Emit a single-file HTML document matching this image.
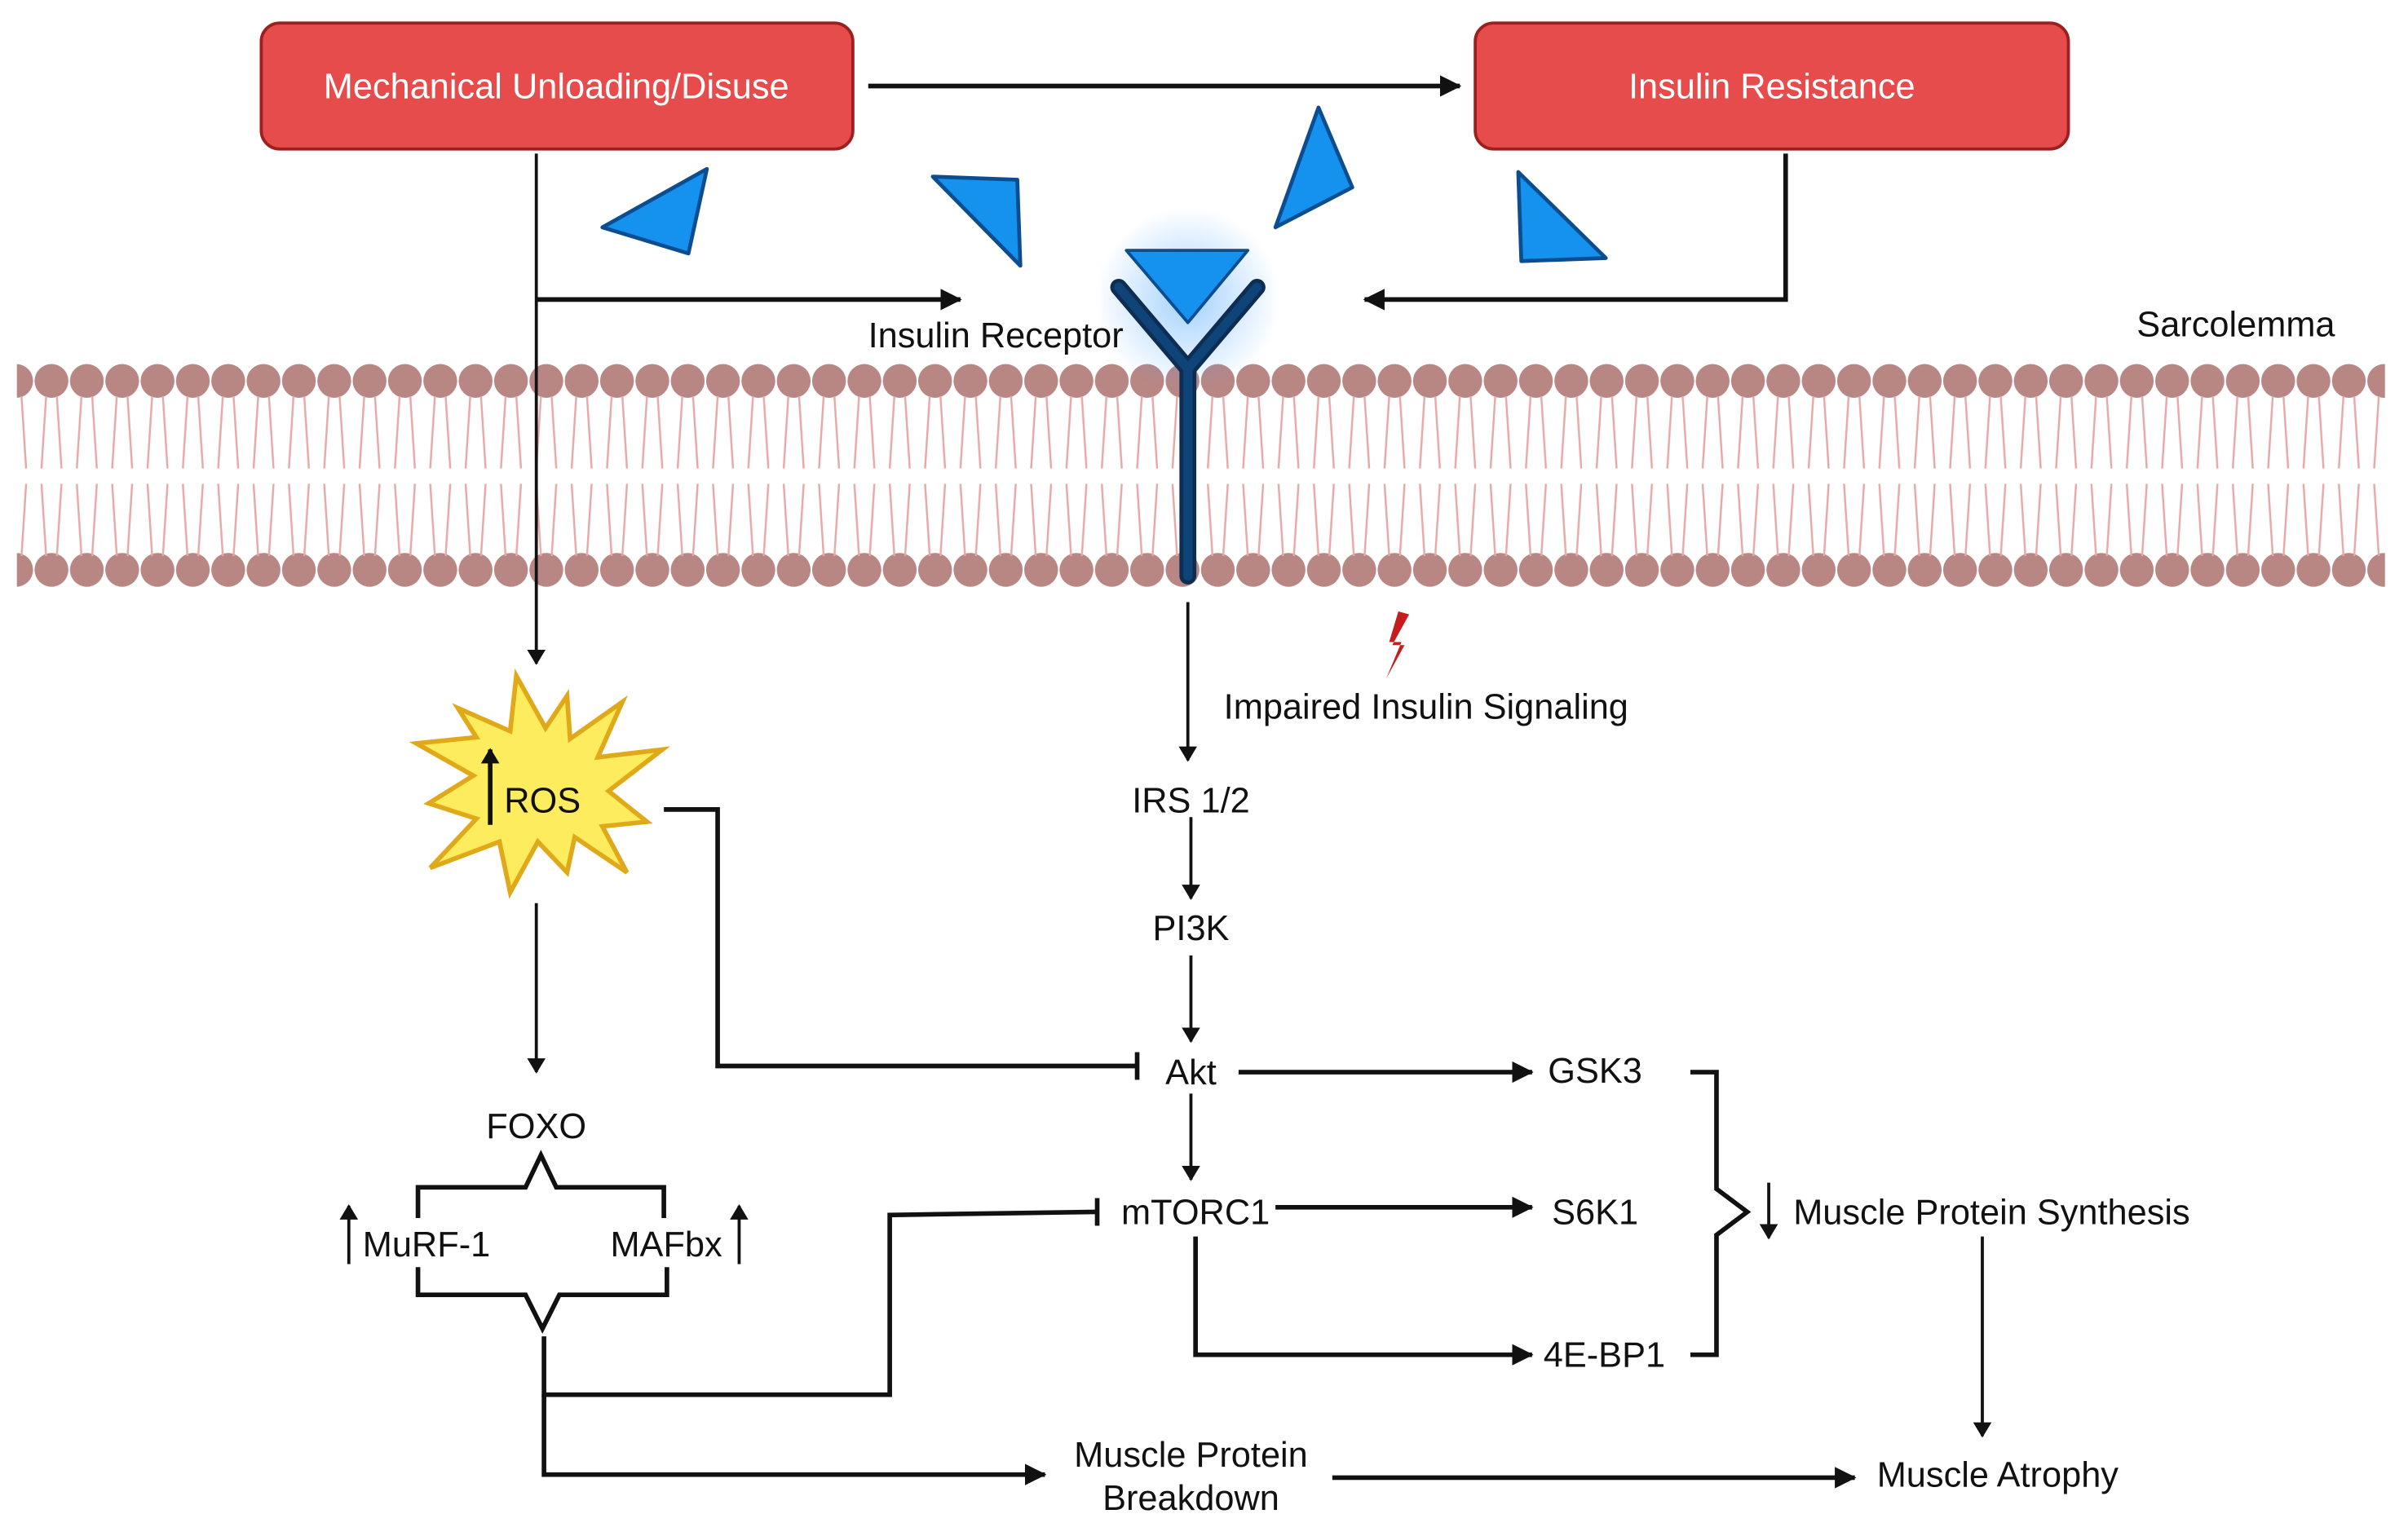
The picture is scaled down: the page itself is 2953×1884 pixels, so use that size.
<!DOCTYPE html>
<html><head><meta charset="utf-8"><style>
html,body{margin:0;padding:0;background:#fff;}
svg{display:block}
text{font-family:"Liberation Sans",sans-serif;fill:#111;font-size:23px;}
</style></head><body>
<svg width="2953" height="1884" viewBox="0 0 1567 1000" preserveAspectRatio="none" xmlns="http://www.w3.org/2000/svg">
<defs>
<marker id="ah" markerWidth="10" markerHeight="12" refX="9" refY="6" orient="auto" markerUnits="userSpaceOnUse"><path d="M0,0 L10,6 L0,12 z" fill="#111"/></marker>
<marker id="ah2" markerWidth="14" markerHeight="14" refX="13" refY="7" orient="auto" markerUnits="userSpaceOnUse"><path d="M0,0 L14,7 L0,14 z" fill="#111"/></marker>
<radialGradient id="glow"><stop offset="0" stop-color="#4aa3ff" stop-opacity="0.5"/><stop offset="1" stop-color="#4aa3ff" stop-opacity="0"/></radialGradient>
<pattern id="heads" x="22" y="0" width="23" height="1000" patternUnits="userSpaceOnUse">
<circle cx="11.5" cy="248" r="11" fill="#b88683"/>
<circle cx="11.5" cy="371" r="11" fill="#b88683"/>
<path d="M8,258 L5,305 M15,258 L18,305 M5,315 L8,362 M18,315 L15,362" stroke="#e8a8a8" stroke-width="1.3" fill="none"/>
</pattern>
</defs>

<rect x="11" y="236" width="1541" height="147" fill="url(#heads)"/>

<rect x="170" y="15" width="385" height="82" rx="12" fill="#e64c4c" stroke="#9e1f1f" stroke-width="2"/>
<text x="362" y="64" text-anchor="middle" style="fill:#fff">Mechanical Unloading/Disuse</text>
<rect x="960" y="15" width="386" height="82" rx="12" fill="#e64c4c" stroke="#9e1f1f" stroke-width="2"/>
<text x="1153" y="64" text-anchor="middle" style="fill:#fff">Insulin Resistance</text>

<g stroke="#111" fill="none" stroke-width="3">
<line x1="565" y1="56" x2="950" y2="56" marker-end="url(#ah2)"/>
<line x1="349" y1="195" x2="625" y2="195" marker-end="url(#ah2)"/>
<polyline points="1162,100 1162,195 888,195" marker-end="url(#ah2)"/>
</g>
<line x1="349" y1="100" x2="349" y2="432" stroke="#111" stroke-width="2" marker-end="url(#ah)"/>

<g fill="#1591ee" stroke="#0b4d8f" stroke-width="2.5" stroke-linejoin="round">
<polygon points="460,110 448,165 392,148"/>
<polygon points="607,115 662,117 664,173"/>
<polygon points="858,70 880,122 830,148"/>
<polygon points="988,112 1045,168 990,170"/>
</g>

<circle cx="773" cy="195" r="60" fill="url(#glow)"/>
<polygon points="733,163 812,163 773,210" fill="#1591ee" stroke="#0b4d8f" stroke-width="2" stroke-linejoin="round"/>
<g stroke="#0d2e52" stroke-width="11" stroke-linecap="round" fill="none">
<polyline points="728,187 773,240 818,187"/>
<line x1="773" y1="240" x2="773" y2="375"/>
</g>
<g stroke="#0f4478" stroke-width="6" stroke-linecap="round" fill="none">
<polyline points="728,187 773,240 818,187"/>
<line x1="773" y1="240" x2="773" y2="375"/>
</g>

<text x="648" y="226" text-anchor="middle">Insulin Receptor</text>
<text x="1455" y="219" text-anchor="middle">Sarcolemma</text>

<line x1="773" y1="392" x2="773" y2="495" stroke="#111" stroke-width="2" marker-end="url(#ah)"/>
<polygon points="910,398 904,418 912,418 902,442 914,420 906,420 917,400" fill="#c61c1c"/>
<text x="928" y="468" text-anchor="middle">Impaired Insulin Signaling</text>
<text x="775" y="529" text-anchor="middle">IRS 1/2</text>
<line x1="775" y1="532" x2="775" y2="585" stroke="#111" stroke-width="2" marker-end="url(#ah)"/>
<text x="775" y="612" text-anchor="middle">PI3K</text>
<line x1="775" y1="622" x2="775" y2="678" stroke="#111" stroke-width="2" marker-end="url(#ah)"/>
<text x="775" y="706" text-anchor="middle">Akt</text>
<line x1="775" y1="712" x2="775" y2="768" stroke="#111" stroke-width="2" marker-end="url(#ah)"/>
<text x="778" y="797" text-anchor="middle">mTORC1</text>

<g stroke="#111" fill="none" stroke-width="3">
<line x1="806" y1="698" x2="997" y2="698" marker-end="url(#ah2)"/>
<line x1="830" y1="786" x2="997" y2="786" marker-end="url(#ah2)"/>
<polyline points="778,805 778,882 997,882" marker-end="url(#ah2)"/>
<polyline points="1100,698 1117,698 1117,774 1137,789 1117,804 1117,882 1100,882"/>
</g>
<text x="1038" y="705" text-anchor="middle">GSK3</text>
<text x="1038" y="797" text-anchor="middle">S6K1</text>
<text x="1044" y="890" text-anchor="middle">4E-BP1</text>
<line x1="1151" y1="770" x2="1151" y2="806" stroke="#111" stroke-width="2" marker-end="url(#ah)"/>
<text x="1167" y="797">Muscle Protein Synthesis</text>
<line x1="1290" y1="805" x2="1290" y2="935" stroke="#111" stroke-width="2" marker-end="url(#ah)"/>
<text x="1300" y="968" text-anchor="middle">Muscle Atrophy</text>

<polygon points="336,440 355,474 369,453 371,481 405,457 389,493 431,488 396,515 421,535 392,538 408,568 374,545 369,568 350,548 332,581 325,548 280,565 310,533 279,523 308,505 271,484 310,480 298,461 332,476" fill="#fdec5e" stroke="#e0a91a" stroke-width="3" stroke-linejoin="miter"/>
<line x1="319" y1="537" x2="319" y2="488" stroke="#111" stroke-width="3" marker-end="url(#ah)"/>
<text x="353" y="529" text-anchor="middle">ROS</text>
<g stroke="#111" fill="none" stroke-width="3">
<polyline points="432,527 467,527 467,694 740,694"/>
<line x1="740" y1="685" x2="740" y2="703"/>
<polyline points="354,870 354,908 579,908 579,791 714,789"/>
<line x1="714" y1="780" x2="714" y2="798"/>
<polyline points="354,908 354,960 680,960" marker-end="url(#ah2)"/>
<line x1="867" y1="962" x2="1207" y2="962" marker-end="url(#ah2)"/>
<polyline points="272,793 272,773 342,773 352,752 362,773 432,773 432,793"/>
<polyline points="272,825 272,843 342,843 353,865 364,843 434,843 434,825"/>
</g>
<line x1="349" y1="588" x2="349" y2="698" stroke="#111" stroke-width="2" marker-end="url(#ah)"/>
<text x="349" y="741" text-anchor="middle">FOXO</text>
<line x1="227" y1="823" x2="227" y2="785" stroke="#111" stroke-width="2" marker-end="url(#ah)"/>
<text x="236" y="818">MuRF-1</text>
<text x="470" y="818" text-anchor="end">MAFbx</text>
<line x1="481" y1="823" x2="481" y2="785" stroke="#111" stroke-width="2" marker-end="url(#ah)"/>
<text x="775" y="955" text-anchor="middle">Muscle Protein</text>
<text x="775" y="983" text-anchor="middle">Breakdown</text>
</svg>
</body></html>
